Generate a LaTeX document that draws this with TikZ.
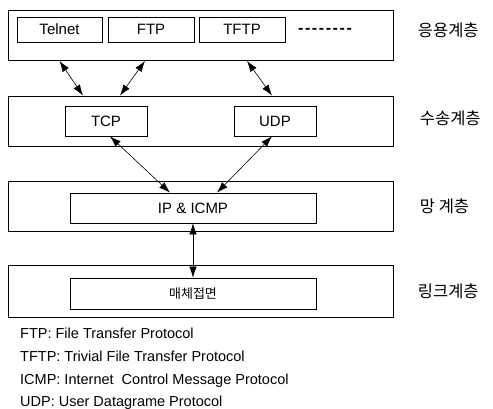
\documentclass[tikz,border=0pt]{standalone}
\usepackage{fontspec}
\setmainfont{Liberation Sans}
\newfontfamily\krfont{Noto Sans CJK KR}
\usetikzlibrary{arrows.meta,positioning}
\tikzset{layerbox/.style={draw,minimum width=385pt,minimum height=50pt,inner sep=0pt,line width=0.8pt}}
\tikzset{protobox/.style={draw,minimum height=25pt,inner sep=0pt,line width=0.7pt,font=\fontsize{15}{17}\selectfont}}
\tikzset{layername/.style={font=\krfont\fontsize{16.5}{18}\selectfont,anchor=west}}
\tikzset{link/.style={{Latex[length=11pt,width=7.5pt]}-{Latex[length=11pt,width=7.5pt]},line width=0.6pt}}
\tikzset{defline/.style={anchor=base west,inner sep=0pt,font=\fontsize{14.5}{17}\selectfont}}

\begin{document}
\begin{tikzpicture}[x=1pt,y=1pt]
	\useasboundingbox (0,0) rectangle (493,-409);
	% layers
	\node[layerbox] (app) at (200.5,-35.5) {};
	\node[layerbox] (trans) at (200.5,-121) {};
	\node[layerbox] (net) at (200.5,-206) {};
	\node[layerbox,minimum height=52pt] (lnk) at (200.5,-291) {};
	%
	\node[layername,right=21pt of app,yshift=5pt] (appname) {응용계층};
	\node[layername,right=23pt of trans,yshift=3pt] (transname) {수송계층};
	\node[layername,right=23pt of net] (netname) {망 계층};
	\node[layername,right=21pt of lnk] (lnkname) {링크계층};
	% protocols
	\node[protobox,minimum width=85pt] (telnet) at (59.5,-29.5) {Telnet};
	\node[protobox,minimum width=86pt] (ftp) at (151,-29.5) {FTP};
	\node[protobox,minimum width=86pt] (tftp) at (242,-29.5) {TFTP};
	\node[font=\fontsize{16}{17}\selectfont\bfseries] (more) at (325,-31) {-\kern1.6pt-\kern1.6pt-\kern1.6pt-\kern1.6pt-\kern1.6pt-\kern1.6pt-\kern1.6pt-};
	\node[protobox,minimum width=82pt,minimum height=30pt] (tcp) at (106,-121) {TCP};
	\node[protobox,minimum width=82pt,minimum height=30pt] (udp) at (275,-121) {UDP};
	\node[protobox,minimum width=246pt,minimum height=30pt] (ip) at (193,-208) {IP \& ICMP};
	\node[protobox,minimum width=246pt,minimum height=31pt,font=\krfont\fontsize{13}{15}\selectfont] (media) at (193,-293.5) {매체접면};
	%
	\draw[link] (telnet.south |- app.south) -- ([xshift=-23pt]tcp.north |- trans.north);
	\draw[link] ([xshift=-6pt]ftp.south |- app.south) -- ([xshift=14pt]tcp.north |- trans.north);
	\draw[link] ([xshift=5pt]tftp.south |- app.south) -- ([xshift=-3pt]udp.north |- trans.north);
	\draw[link] ([xshift=4pt]tcp.south) -- ([xshift=-23pt]ip.north);
	\draw[link] ([xshift=-3pt]udp.south) -- ([xshift=24pt]ip.north);
	\draw[link] (ip.south) -- (media.north);
	% abbreviations
	\node[defline] (def1) at (20,-338) {FTP: File Transfer Protocol};
	\node[defline] (def2) at (20,-361) {TFTP: Trivial File Transfer Protocol};
	\node[defline] (def3) at (20,-384) {ICMP: Internet\ \ Control Message Protocol};
	\node[defline] (def4) at (20,-406) {UDP: User Datagrame Protocol};
\end{tikzpicture}
\end{document}
